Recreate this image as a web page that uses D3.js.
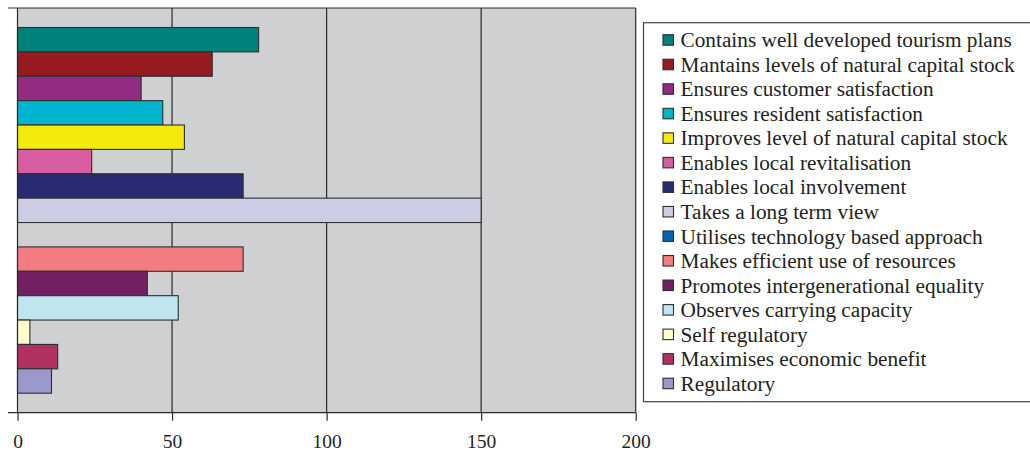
<!DOCTYPE html>
<html>
<head>
<meta charset="utf-8">
<script src="https://cdn.jsdelivr.net/npm/d3@7"></script>
<style>
  html, body { margin: 0; padding: 0; background: #ffffff; }
  svg { display: block; }
  text { font-family: "Liberation Serif", "Times New Roman", serif; fill: #231f20; }
</style>
</head>
<body>
<svg id="chart" width="1030" height="451"></svg>
<script>
// Attributes of sustainable tourism, with the number of mentions each received
const seriesNames = [
  "Contains well developed tourism plans",
  "Mantains levels of natural capital stock",
  "Ensures customer satisfaction",
  "Ensures resident satisfaction",
  "Improves level of natural capital stock",
  "Enables local revitalisation",
  "Enables local involvement",
  "Takes a long term view",
  "Utilises technology based approach",
  "Makes efficient use of resources",
  "Promotes intergenerational equality",
  "Observes carrying capacity",
  "Self regulatory",
  "Maximises economic benefit",
  "Regulatory"
];
const seriesValues = [78, 63, 40, 47, 54, 24, 73, 150, 0, 73, 42, 52, 4, 13, 11];
const seriesColors = [
  "#00817b", "#961b20", "#932b82", "#00b4d0", "#f4ea0c",
  "#d75ca0", "#282a74", "#cdcce5", "#0066b3", "#f37c82",
  "#741f63", "#bfe6ef", "#fffbcc", "#b23163", "#9a99cb"
];
const xTicks = [0, 50, 100, 150, 200];

const svg = d3.select("#chart");

const plot = { left: 17.5, top: 8, right: 635.7, bottom: 412.7 };

const x = d3.scaleLinear().domain([0, 200]).range([plot.left, plot.right]);
const y = d3.scaleBand()
  .domain(seriesNames)
  .range([plot.top, plot.bottom])
  .paddingInner(0)
  .paddingOuter(0.8);

// plot background
svg.append("rect")
  .attr("x", plot.left).attr("y", plot.top)
  .attr("width", plot.right - plot.left).attr("height", plot.bottom - plot.top)
  .attr("fill", "#cfd0d2");

// vertical gridlines
svg.append("g")
  .selectAll("line")
  .data(xTicks.slice(1))
  .join("line")
  .attr("x1", d => x(d)).attr("x2", d => x(d))
  .attr("y1", plot.top).attr("y2", plot.bottom)
  .attr("stroke", "#2b2b2b").attr("stroke-width", 1.2);

// top border
svg.append("line")
  .attr("x1", 8).attr("x2", plot.right)
  .attr("y1", plot.top).attr("y2", plot.top)
  .attr("stroke", "#2b2b2b").attr("stroke-width", 1.2);

// bars
svg.append("g")
  .selectAll("rect")
  .data(seriesNames.map((n, i) => ({ name: n, value: seriesValues[i], color: seriesColors[i] })))
  .join("rect")
  .filter(d => d.value > 0)
  .attr("x", x(0))
  .attr("y", d => y(d.name))
  .attr("width", d => x(d.value) - x(0))
  .attr("height", y.bandwidth())
  .attr("fill", d => d.color)
  .attr("stroke", "#2e2e2e")
  .attr("stroke-width", 1.1);

// left axis line
svg.append("line")
  .attr("x1", plot.left).attr("x2", plot.left)
  .attr("y1", plot.top).attr("y2", plot.bottom)
  .attr("stroke", "#2b2b2b").attr("stroke-width", 1.2);

// bottom value axis
const xAxis = d3.axisBottom(x)
  .tickValues(xTicks)
  .tickSize(8)
  .tickSizeOuter(0)
  .tickFormat(d3.format("d"));

const gx = svg.append("g")
  .attr("transform", `translate(0,${plot.bottom})`)
  .call(xAxis);
gx.select(".domain").remove();
gx.selectAll(".tick line").attr("stroke", "#2b2b2b").attr("stroke-width", 1.2);
gx.selectAll(".tick text")
  .attr("y", 21)
  .attr("dy", "0.71em")
  .style("font-family", '"Liberation Serif", "Times New Roman", serif')
  .style("font-size", "19.5px")
  .attr("fill", "#231f20");
svg.append("line")
  .attr("x1", 8).attr("x2", plot.right)
  .attr("y1", plot.bottom).attr("y2", plot.bottom)
  .attr("stroke", "#2b2b2b").attr("stroke-width", 1.2);

// legend
const legend = svg.append("g");
legend.append("rect")
  .attr("x", 643.5).attr("y", 22.7)
  .attr("width", 400).attr("height", 401.7 - 22.7)
  .attr("fill", "#ffffff")
  .attr("stroke", "#444444").attr("stroke-width", 1.2);

const rowY = d3.scalePoint().domain(seriesNames).range([40, 383.5]);
const rows = legend.selectAll("g.row")
  .data(seriesNames.map((n, i) => ({ name: n, color: seriesColors[i] })))
  .join("g")
  .attr("class", "row")
  .attr("transform", d => `translate(0,${rowY(d.name)})`);

rows.append("rect")
  .attr("x", 663).attr("y", -5.3)
  .attr("width", 10.5).attr("height", 10.5)
  .attr("fill", d => d.color)
  .attr("stroke", "#2e2e2e").attr("stroke-width", 1.1);

rows.append("text")
  .attr("x", 680.5)
  .attr("dy", "0.34em")
  .style("font-size", "21.3px")
  .text(d => d.name);
</script>
</body>
</html>
